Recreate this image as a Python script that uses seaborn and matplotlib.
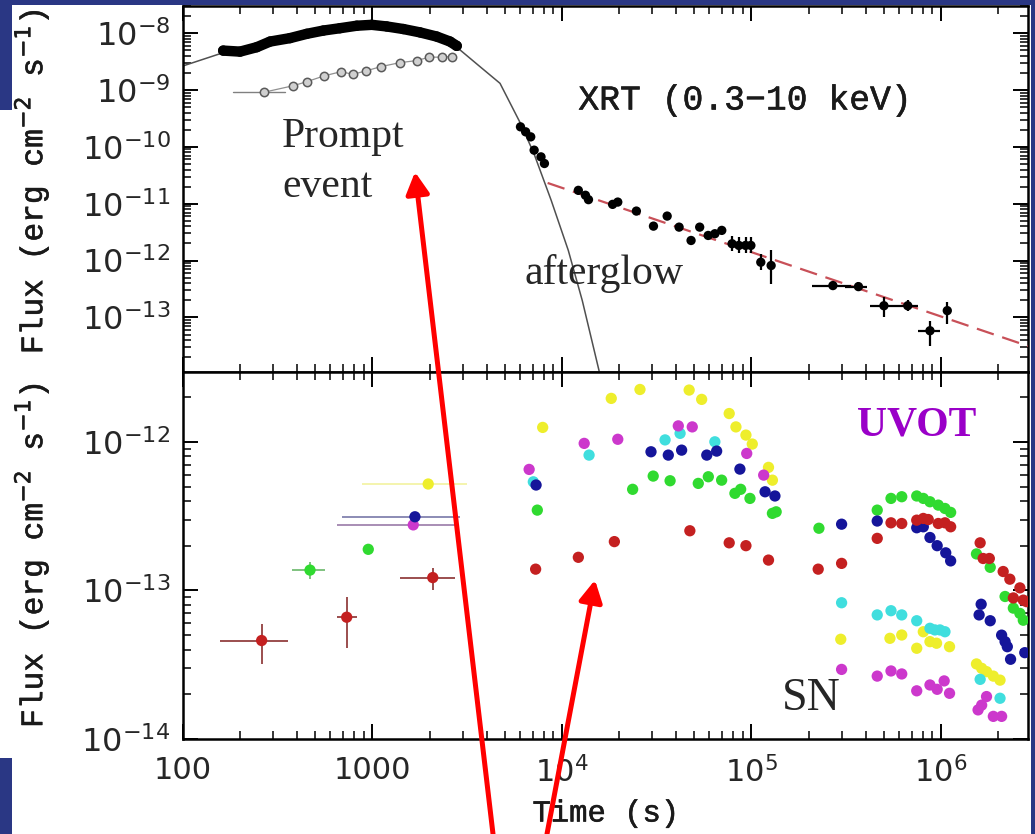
import numpy as np
import pandas as pd
import matplotlib
matplotlib.use("Agg")
import matplotlib.pyplot as plt
import matplotlib.patheffects as pe
import seaborn as sns
from matplotlib.ticker import LogLocator, FuncFormatter, NullFormatter
from matplotlib.patches import Rectangle, FancyArrowPatch

# ---------------- top panel (XRT / BAT) ----------------
bat_t = [163, 200, 245, 288, 367, 450, 550, 673, 826, 991, 1189, 1455, 1782, 2183, 2565, 2783]
bat_f = [4.93e-9, 4.73e-9, 5.66e-9, 7.11e-9, 8.17e-9, 9.72e-9, 1.11e-8, 1.22e-8, 1.35e-8,
         1.40e-8, 1.31e-8, 1.18e-8, 1.03e-8, 8.7e-9, 7.11e-9, 5.97e-9]

soft_t = [266, 382, 450, 555, 682, 787, 921, 1109, 1397, 1711, 1994, 2318, 2619]
soft_f = [9.1e-10, 1.19e-9, 1.40e-9, 1.77e-9, 2.10e-9, 1.89e-9, 2.16e-9, 2.58e-9, 3.03e-9,
          3.29e-9, 3.78e-9, 3.78e-9, 3.87e-9]
soft_first_tlo = 184
soft_first_thi = 345

model_t = [100, 160, 250, 400, 650, 1000, 1500, 2200, 2897, 3690, 4710, 6040, 7110, 8770,
           10800, 12800, 15700]
model_f = [2.65e-9, 4.44e-9, 5.7e-9, 9.0e-9, 1.2e-8, 1.4e-8, 1.17e-8, 8.6e-9, 5.07e-9,
           2.58e-9, 1.31e-9, 2.59e-10, 7.66e-11, 1.15e-11, 1.51e-12, 1.98e-13, 1.15e-14]

xrt_t = [6040, 6430, 6840, 7130, 7750, 8080, 12200, 13300, 13800, 18500, 19700, 24700, 30400,
         35900, 41500, 48000, 53300, 59100, 64100, 69700, 79000, 85800, 93100, 99300, 112000,
         127000, 269000, 367000, 500000, 668000, 875000, 1080000]
xrt_f = [2.25e-10, 1.84e-10, 1.50e-10, 8.75e-11, 6.67e-11, 5.1e-11, 1.72e-11, 1.41e-11,
         1.18e-11, 9.75e-12, 1.07e-11, 7.43e-12, 4.04e-12, 6.07e-12, 3.88e-12, 2.26e-12,
         3.88e-12, 2.77e-12, 2.97e-12, 3.40e-12, 1.98e-12, 1.85e-12, 1.85e-12, 1.85e-12,
         9.37e-13, 8.2e-13, 3.64e-13, 3.49e-13, 1.61e-13, 1.61e-13, 5.85e-14, 1.32e-13]

# binned late-time points with error bars
late_t = [79000, 85800, 93100, 99300, 112000, 127000, 269000, 367000, 500000, 668000, 875000, 1080000]
late_f = [1.98e-12, 1.85e-12, 1.85e-12, 1.85e-12, 9.37e-13, 8.2e-13, 3.64e-13, 3.49e-13,
          1.61e-13, 1.61e-13, 5.85e-14, 1.32e-13]
late_tlo = [79000, 85800, 93100, 99300, 112000, 127000, 209000, 310000, 424000, 590000, 757000, 1040000]
late_thi = [79000, 85800, 93100, 99300, 112000, 127000, 337000, 407000, 590000, 757000, 992000, 1120000]
late_flo = [1.45e-12, 1.35e-12, 1.35e-12, 1.35e-12, 6.8e-13, 3.9e-13, 3.1e-13, 2.9e-13,
            1.0e-13, 1.3e-13, 3.18e-14, 7.67e-14]
late_fhi = [2.7e-12, 2.55e-12, 2.55e-12, 2.55e-12, 1.33e-12, 1.51e-12, 4.3e-13, 4.2e-13,
            2.26e-13, 2.0e-13, 8.8e-14, 1.85e-13]

pl_t = [8400, 2.88e6]
pl_f = [2.32e-11, 3.15e-14]

# ---------------- bottom panel (UVOT) ----------------
red_t = [260, 731, 2080, 7260, 12200, 18900, 47300, 76300, 93500, 123000, 225000, 299000,
         461000, 545000, 621000, 745000, 807000, 857000, 968000, 1050000, 1125000, 1610000,
         1670000, 1800000, 2130000, 2310000, 2410000, 2610000, 2720000, 2830000]
red_f = [4.6e-14, 6.6e-14, 1.22e-13, 1.39e-13, 1.67e-13, 2.13e-13, 2.52e-13, 2.09e-13, 2.0e-13,
         1.6e-13, 1.39e-13, 1.52e-13, 2.24e-13, 2.85e-13, 2.82e-13, 2.97e-13, 3.05e-13, 3.0e-13,
         2.82e-13, 2.85e-13, 2.68e-13, 2.09e-13, 1.64e-13, 1.64e-13, 1.34e-13, 1.19e-13, 8.9e-14,
         1.04e-13, 8.6e-14, 8.4e-14]
green_t = [468, 950, 7410, 23600, 30300, 37200, 52400, 59200, 69600, 81800, 87700, 98200,
           129000, 135000, 227000, 461000, 545000, 621000, 745000, 807000, 875000, 968000,
           1050000, 1125000, 1540000, 1820000, 2180000, 2410000, 2610000, 2720000]
green_f = [1.37e-13, 1.89e-13, 3.47e-13, 4.79e-13, 5.88e-13, 5.47e-13, 5.25e-13, 5.82e-13,
           5.52e-13, 4.5e-13, 4.79e-13, 4.16e-13, 3.3e-13, 3.38e-13, 2.62e-13, 3.47e-13, 4.16e-13,
           4.27e-13, 4.32e-13, 4.16e-13, 3.95e-13, 3.75e-13, 3.56e-13, 3.35e-13, 1.76e-13,
           1.43e-13, 9.1e-14, 7.6e-14, 7.0e-14, 6.3e-14]
blue_t = [1675, 7300, 29500, 36400, 42800, 58100, 65500, 86900, 118000, 133000, 299000, 461000,
          745000, 807000, 875000, 955000, 1060000, 1125000, 1630000, 1590000, 1820000, 2090000,
          2180000, 2240000, 2330000, 2770000]
blue_f = [3.13e-13, 5.12e-13, 8.57e-13, 8.14e-13, 8.79e-13, 8.14e-13, 8.66e-13, 6.55e-13,
          4.61e-13, 4.32e-13, 2.79e-13, 2.93e-13, 2.64e-13, 2.68e-13, 2.27e-13, 2.0e-13, 1.79e-13,
          1.58e-13, 8.07e-14, 6.84e-14, 6.25e-14, 5.0e-14, 4.52e-14, 4.18e-14, 3.44e-14, 3.81e-14]
cyan_t = [7060, 13900, 35000, 42000, 64100, 299000, 461000, 545000, 621000, 745000, 875000,
          929000, 988000, 1050000, 1610000, 2050000]
cyan_f = [5.38e-13, 8.14e-13, 1.03e-12, 1.14e-12, 1.0e-12, 8.26e-14, 6.84e-14, 7.3e-14,
          6.84e-14, 6.25e-14, 5.56e-14, 5.42e-14, 5.42e-14, 5.27e-14, 2.52e-14, 1.88e-14]
yellow_t = [1968, 7910, 18200, 25800, 46900, 54600, 76300, 82800, 93500, 101000, 123000,
            129000, 296000, 538000, 621000, 745000, 807000, 875000, 948000, 1110000, 1540000,
            1640000, 1740000, 1890000, 2050000]
yellow_f = [5.2e-13, 1.25e-12, 1.96e-12, 2.25e-12, 2.23e-12, 1.93e-12, 1.55e-12, 1.26e-12,
            1.11e-12, 9.66e-13, 6.73e-13, 5.52e-13, 4.69e-14, 4.76e-14, 5.01e-14, 4.08e-14,
            5.27e-14, 4.52e-14, 4.41e-14, 4.18e-14, 3.2e-14, 2.99e-14, 2.84e-14, 2.65e-14, 2.49e-14]
magenta_t = [1641, 6710, 13100, 19700, 41100, 48700, 94400, 116000, 299000, 461000, 545000,
             621000, 745000, 875000, 955000, 1040000, 1110000, 1740000, 1640000, 1570000,
             1890000, 2090000]
magenta_f = [2.76e-13, 6.52e-13, 9.76e-13, 1.04e-12, 1.28e-12, 1.26e-12, 8.35e-13, 5.97e-13,
             2.94e-14, 2.65e-14, 2.87e-14, 2.74e-14, 2.11e-14, 2.31e-14, 2.16e-14, 2.46e-14,
             2.03e-14, 1.93e-14, 1.69e-14, 1.57e-14, 1.42e-14, 1.42e-14]

# early UVOT points with error bars: filter, t, t_lo, t_hi, f, f_lo, f_hi
early_filter = ["red", "red", "red", "green", "blue", "magenta", "yellow"]
early_t = [260, 731, 2080, 468, 1675, 1641, 1968]
early_tlo = [157, 651, 1396, 376, 690, 650, 881]
early_thi = [358, 826, 2723, 561, 2897, 2723, 3155]
early_f = [4.6e-14, 6.6e-14, 1.22e-13, 1.37e-13, 3.13e-13, 2.76e-13, 5.2e-13]
early_flo = [3.2e-14, 4.1e-14, 1.0e-13, 1.2e-13, 3.13e-13, 2.76e-13, 5.2e-13]
early_fhi = [5.9e-14, 9.0e-14, 1.41e-13, 1.55e-13, 3.13e-13, 2.76e-13, 5.2e-13]

xtick_vals = [100, 1000, 1e4, 1e5, 1e6]
xtick_labels = ["100", "1000", r"$10^{4}$", r"$10^{5}$", r"$10^{6}$"]

palette = {"yellow": "#eeee2c", "magenta": "#cc38cc", "cyan": "#40dede",
           "green": "#30da30", "blue": "#15159a", "red": "#c42020"}
err_colors = {"yellow": "#f2f2a0", "magenta": "#9a7aa8", "cyan": "#40dede",
              "green": "#6ab86a", "blue": "#7878a8", "red": "#8a3030"}

# ---------------- figure ----------------
sns.set_theme(style="ticks")
plt.rcParams["font.family"] = ["DejaVu Sans"]
plt.rcParams["mathtext.fontset"] = "dejavusans"

W, H = 1035, 834
fig = plt.figure(figsize=(W / 100, H / 100), dpi=100)
fig.patch.set_facecolor("white")

left = 183 / W
width = (1028 - 183) / W
ax1 = fig.add_axes([left, 1 - 372 / H, width, (372 - 6) / H])
ax2 = fig.add_axes([left, 1 - 739 / H, width, (739 - 372) / H])

thick = [pe.withStroke(linewidth=0.4, foreground="#1a1a1a")]

for ax in (ax1, ax2):
    ax.set_facecolor("white")
    ax.set_xscale("log")
    ax.set_yscale("log")
    ax.set_xlim(100, 2.88e6)
    for s in ax.spines.values():
        s.set_linewidth(1.8)
        s.set_color("black")
    ax.xaxis.set_major_locator(LogLocator(base=10, numticks=20))
    ax.xaxis.set_minor_locator(LogLocator(base=10, subs=np.arange(2, 10), numticks=100))
    ax.yaxis.set_major_locator(LogLocator(base=10, numticks=20))
    ax.yaxis.set_minor_locator(LogLocator(base=10, subs=np.arange(2, 10), numticks=100))
    ax.tick_params(which="both", direction="in", top=True, right=True, color="black")
    ax.tick_params(which="major", length=11, width=1.4, labelsize=22, pad=9)
    ax.tick_params(axis="y", which="major", labelsize=23)
    ax.tick_params(which="minor", length=5.5, width=1.1)
    ax.xaxis.set_minor_formatter(NullFormatter())
    ax.yaxis.set_minor_formatter(NullFormatter())

ax1.set_ylim(1.1e-14, 3.0e-8)
ax2.set_ylim(1.0e-14, 2.95e-12)
ax1.tick_params(axis="x", labelbottom=False)
ax2.set_xticks(xtick_vals)
ax2.xaxis.set_major_formatter(FuncFormatter(lambda v, p: xtick_labels[xtick_vals.index(v)]
                                            if v in xtick_vals else ""))
ax2.tick_params(axis="x", which="major", pad=12)

# --- top panel drawing ---
sns.lineplot(x=model_t, y=model_f, ax=ax1, color="#505050", lw=1.1, sort=False,
             estimator=None, zorder=2)
ax1.plot(bat_t, bat_f, color="black", lw=7.5, solid_capstyle="round", zorder=4)
sns.scatterplot(x=bat_t, y=bat_f, ax=ax1, color="black", s=55, edgecolor="none", zorder=4)
ax1.plot([soft_first_tlo, soft_first_thi], [soft_f[0], soft_f[0]], color="#808080", lw=1.0, zorder=3)
ax1.plot(soft_t, soft_f, color="#909090", lw=0.9, zorder=3)
ax1.plot(soft_t, soft_f, linestyle="none", marker="o", ms=6, mfc="#d0d0d0",
         mec="#5a5a5a", mew=1.1, zorder=5)
sns.lineplot(x=pl_t, y=pl_f, ax=ax1, color="#c85058", lw=1.6, dashes=(8, 4), sort=False,
             estimator=None, zorder=3)
ax1.errorbar(late_t, late_f,
             xerr=[np.array(late_t) - np.array(late_tlo), np.array(late_thi) - np.array(late_t)],
             yerr=[np.array(late_f) - np.array(late_flo), np.array(late_fhi) - np.array(late_f)],
             fmt="none", ecolor="black", elinewidth=1.6, capsize=0, zorder=5)
sns.scatterplot(x=xrt_t, y=xrt_f, ax=ax1, color="black", s=45, edgecolor="none", zorder=6)

ylabel_txt = r"Flux (erg cm$^{-2}$ s$^{-1}$)"
ax1.set_ylabel(ylabel_txt, family="Liberation Mono", fontsize=22.5, color="#1a1a1a")
ax1.yaxis.set_label_coords(-0.155, 0.52)
ax1.yaxis.label.set_path_effects(thick)

xrt_lbl = ax1.text(1.22e4, 6.67e-10, "XRT (0.3\u221210 keV)", family="Liberation Mono",
                   fontsize=25, va="center", ha="left", color="#1a1a1a")
xrt_lbl.set_path_effects(thick)
ax1.text(333, 1.0e-10, "Prompt", family="Liberation Serif", fontsize=30, va="baseline", ha="left")
ax1.text(333, 1.3e-11, "event", family="Liberation Serif", fontsize=30, va="baseline", ha="left")
ax1.text(6310, 3.94e-13, "afterglow", family="Liberation Serif", fontsize=30,
         va="baseline", ha="left")

# --- bottom panel drawing ---
frames = []
for name, tt, ff in [("yellow", yellow_t, yellow_f), ("cyan", cyan_t, cyan_f),
                     ("magenta", magenta_t, magenta_f), ("green", green_t, green_f),
                     ("blue", blue_t, blue_f), ("red", red_t, red_f)]:
    frames.append(pd.DataFrame({"time": tt, "flux": ff, "filter": name}))
uv = pd.concat(frames, ignore_index=True)

for i, name in enumerate(early_filter):
    ax2.errorbar([early_t[i]], [early_f[i]],
                 xerr=[[early_t[i] - early_tlo[i]], [early_thi[i] - early_t[i]]],
                 yerr=[[early_f[i] - early_flo[i]], [early_fhi[i] - early_f[i]]],
                 fmt="none", ecolor=err_colors[name], elinewidth=1.2, capsize=0, zorder=2)

sns.scatterplot(data=uv, x="time", y="flux", hue="filter", palette=palette, ax=ax2,
                s=66, edgecolor="none", legend=False, zorder=3)

ax2.set_ylabel(ylabel_txt, family="Liberation Mono", fontsize=22.5, color="#1a1a1a")
ax2.yaxis.set_label_coords(-0.155, 0.5)
ax2.yaxis.label.set_path_effects(thick)
ax2.set_xlabel("Time (s)", family="Liberation Mono", fontsize=22, color="#1a1a1a")
ax2.xaxis.set_label_coords(0.5, -0.203)
ax2.xaxis.label.set_va("center")
ax2.xaxis.label.set_path_effects(thick)

ax2.text(3.59e5, 1.11e-12, "UVOT", family="Liberation Serif", fontweight="bold",
         fontsize=30, color="#9a00c8", va="baseline", ha="left")
ax2.text(1.45e5, 1.57e-14, "SN", family="Liberation Serif", fontsize=33,
         va="baseline", ha="left")

# --- slide background strips ---
blue = "#2a3784"
def fx(px):
    return px / W
def fy(py):
    return 1 - py / H
for (x0, y0, x1, y1) in [(0, 0, W, 5), (0, 0, 12, 110), (0, 758, 12, H), (1031, 0, W, H)]:
    fig.add_artist(Rectangle((fx(x0), fy(y1)), fx(x1) - fx(x0), fy(y0) - fy(y1),
                             transform=fig.transFigure, color=blue, zorder=20, lw=0))

# --- red arrows ---
for (tx, ty, hx, hy) in [(493, 834, 415, 172), (547, 834, 595, 580)]:
    fig.add_artist(FancyArrowPatch((fx(tx), fy(ty)), (fx(hx), fy(hy)),
                                   transform=fig.transFigure,
                                   arrowstyle="-|>,head_length=0.65,head_width=0.35",
                                   mutation_scale=20, color="#ff0000", lw=3.6,
                                   shrinkA=0, shrinkB=0, zorder=25))

fig.savefig("out.png", dpi=100, facecolor="white")
